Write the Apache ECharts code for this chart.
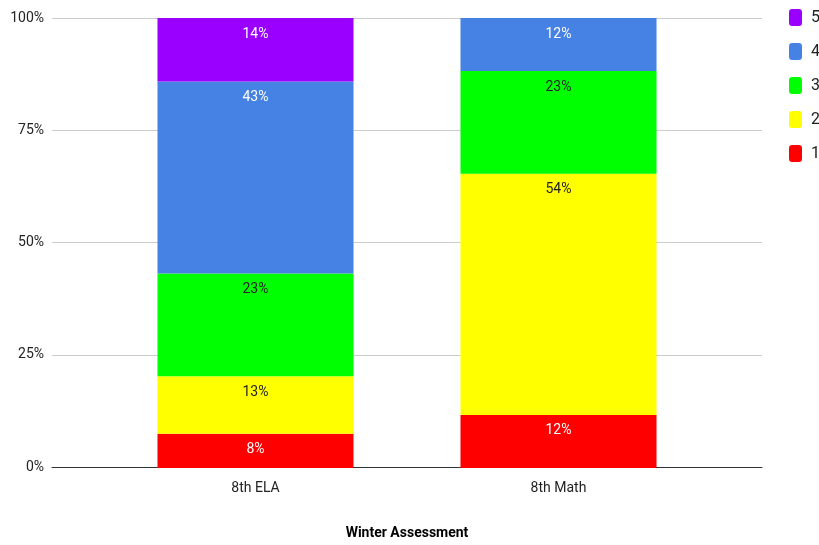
<!DOCTYPE html>
<html><head><meta charset="utf-8">
<script src="https://cdn.jsdelivr.net/npm/echarts@6/dist/echarts.min.js"></script>
<style>html,body{margin:0;padding:0;background:#fff}#c{width:819px;height:545px}</style>
</head><body><div id="c"></div>
<script>
const categories = ['8th ELA', '8th Math'];
const level1 = [7.6, 11.8];
const level2 = [12.8, 53.6];
const level3 = [22.8, 22.8];
const level4 = [42.7, 11.8];
const level5 = [14.1, 0];
const yTicks = [0, 25, 50, 75, 100];
const seriesNames = ['1', '2', '3', '4', '5'];
const colors = ['#ff0000', '#ffff00', '#00ff00', '#4682e4', '#9900ff'];
const labelColors = ['#ffffff', '#222222', '#222222', '#ffffff', '#ffffff'];
const values = [level1, level2, level3, level4, level5];

const chart = echarts.init(document.getElementById('c'), null, {renderer: 'canvas'});
const series = seriesNames.map((n, i) => ({
  name: n,
  type: 'bar',
  stack: 'total',
  xAxisIndex: 1,
  yAxisIndex: 1,
  barWidth: '64.7%',
  data: values[i],
  itemStyle: {color: colors[i]},
  label: {
    show: true,
    position: 'insideTop',
    distance: 9,
    fontFamily: 'Roboto',
    fontSize: 14,
    color: labelColors[i],
    formatter: p => p.value > 0 ? Math.round(p.value) + '%' : ''
  }
}));
chart.setOption({
  animation: false,
  textStyle: {fontFamily: 'Roboto'},
  grid: [
    {left: 52, right: 57, top: 18, bottom: 77},
    {left: 104, right: 109, top: 18, bottom: 77}
  ],
  legend: {
    data: ['5', '4', '3', '2', '1'],
    orient: 'vertical',
    left: 789,
    top: 9,
    padding: 0,
    itemWidth: 13,
    itemHeight: 17,
    itemGap: 17,
    icon: 'roundRect',
    textStyle: {fontFamily: 'Roboto', fontSize: 16, color: '#222', padding: [0, 0, 0, 4]}
  },
  xAxis: [
    {
      gridIndex: 0,
      type: 'category',
      data: [''],
      name: 'Winter Assessment',
      nameLocation: 'middle',
      nameGap: 59,
      nameTextStyle: {fontFamily: 'Roboto', fontSize: 14, fontWeight: 'bold', color: '#000'},
      axisTick: {show: false},
      axisLabel: {show: false},
      axisLine: {lineStyle: {color: '#333', width: 1}}
    },
    {
      gridIndex: 1,
      type: 'category',
      data: categories,
      axisTick: {show: false},
      axisLine: {show: false},
      axisLabel: {fontFamily: 'Roboto', fontSize: 14, color: '#222', margin: 13}
    }
  ],
  yAxis: [
    {
      gridIndex: 0,
      type: 'value',
      min: yTicks[0],
      max: yTicks[yTicks.length - 1],
      interval: 25,
      axisLabel: {fontFamily: 'Roboto', fontSize: 14, color: '#222', margin: 8, formatter: v => v + '%'},
      splitLine: {lineStyle: {color: '#cccccc'}},
      axisLine: {show: false},
      axisTick: {show: false}
    },
    {
      gridIndex: 1,
      type: 'value',
      min: yTicks[0],
      max: yTicks[yTicks.length - 1],
      interval: 25,
      show: false
    }
  ],
  series: series
});
</script></body></html>
